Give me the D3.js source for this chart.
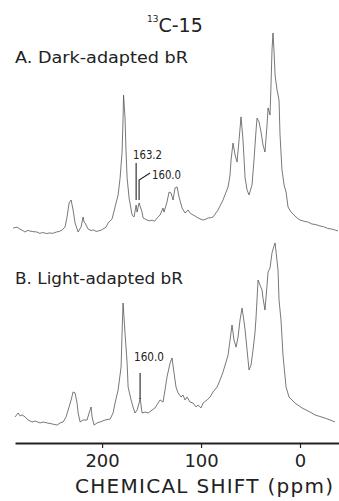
<!DOCTYPE html>
<html><head><meta charset="utf-8">
<script src="https://cdn.jsdelivr.net/npm/d3@7"></script>
<style>body{margin:0;background:#fff}svg{display:block}</style>
</head><body>
<svg id="c" width="339" height="501"></svg>
<script>
// Spectrum A: dark-adapted bR  [ppm, relative intensity]
const specA = [[290,1.5],[286,2.0],[283,1.0],[280,0.2],[278,-0.5],[275,0.3],[273,0],[270,-0.3],[266,-0.5],[263,-1.2],[260,-0.8],[256,-1.3],[253,-1.0],[250,-1.2],[246,-0.5],[243,-0.2],[240.4,0.5],[237.4,2.1],[235.4,7.2],[233.3,14.4],[231.3,15.9],[229.3,10.8],[227.3,4.1],[224.2,-0.5],[221.2,2.1],[219.2,7.2],[218.2,4.6],[217.2,4.1],[214.1,1.0],[211,0.2],[209,0.6],[206,-0.2],[204,0],[201,0.4],[199,1.0],[196,2.0],[193.9,4.1],[189.9,6.2],[186.9,12.3],[183.8,18.5],[181.8,27.2],[179.8,40.5],[178.8,57.9],[178.3,69.7],[176.8,57.9],[175.8,40.5],[174.7,27.2],[172.7,16.9],[169.7,8.2],[167.7,7.2],[165.6,13.3],[164.6,9.7],[162.6,14.4],[159.6,9.7],[158.6,6.7],[154.5,5.6],[152,5.2],[149.5,5.6],[147,5.0],[144.4,6.7],[141.4,8.2],[138.4,11.8],[137.4,9.7],[134.4,14.9],[132.3,20.0],[130.3,19.5],[128.3,15.9],[126.3,22.1],[124.2,22.6],[122.2,17.4],[119.2,11.8],[116.1,9.2],[113.1,10.8],[111.1,9.2],[108.1,8.2],[105,7.4],[103,6.7],[100,6.0],[98,5.6],[95,6.1],[92.9,6.7],[90,6.8],[87.9,7.2],[82.8,10.8],[77.8,15.9],[72.7,22.6],[70.7,28.7],[69.7,36.4],[67.7,45.1],[65.6,39.0],[63.6,35.4],[61.6,46.7],[59.6,58.5],[57.6,46.7],[55.5,27.2],[53.5,21.0],[51.5,18.5],[48.5,23.6],[46.5,36.4],[44.4,51.8],[43.4,57.9],[41.4,55.9],[39.4,50.8],[37.4,44.1],[35.4,40.5],[33.3,54.4],[32.3,63.1],[30.3,59.5],[29.3,74.9],[28.3,92.8],[27.3,101.5],[26.3,92.8],[25.2,80.0],[23.2,72.3],[21.2,67.2],[20.2,49.2],[18.2,31.3],[16.1,23.6],[14.1,20.0],[12.1,12.3],[9.1,9.7],[5.1,7.7],[2,6.3],[0,5.6],[-4,5.0],[-8,4.6],[-12,3.6],[-16,3.3],[-20,2.6],[-24,2.2],[-28,1.3],[-32,1.0],[-36,0.4],[-38.4,0]];

// Spectrum B: light-adapted bR  [ppm, relative intensity]
const specB = [[287.9,2.1],[284.8,4.1],[282.8,2.6],[280.8,3.1],[277.8,2.1],[274.7,0.5],[270.7,-0.5],[267.7,0],[262.6,-1.0],[259.6,-0.5],[255.6,-1.0],[250.5,-1.5],[245.5,-2.1],[242.4,-1.0],[239.4,-0.5],[236.4,2.1],[234.3,5.6],[231.3,10.8],[229.3,14.9],[227.3,14.4],[225.3,9.2],[224.2,4.1],[222.2,-0.5],[219.2,0.5],[215.2,0.5],[213.1,4.1],[211.1,7.2],[210.1,2.1],[208.1,-2.1],[205.1,-1.0],[202,-0.5],[197,0.5],[191.9,1.0],[188.9,4.1],[186.9,9.2],[183.8,15.9],[180.8,27.7],[179.8,45.1],[178.8,60.5],[176.8,45.1],[174.7,29.7],[173.7,17.4],[170.7,10.8],[168.7,7.2],[166.7,4.1],[164.6,5.6],[162.6,9.2],[161.6,11.8],[159.6,4.1],[156.6,4.6],[153.5,4.1],[149.5,5.6],[146.5,6.7],[143.4,9.2],[141.4,10.8],[138.4,9.7],[136.4,15.9],[134.4,22.6],[131.3,29.7],[129.3,32.3],[127.3,24.6],[125.3,17.4],[123.2,14.4],[120.2,12.3],[118.2,13.3],[116.2,10.8],[114.1,12.3],[111.1,9.7],[108.1,9.2],[105.1,7.2],[103,8.2],[100,6.7],[98,9.2],[93.9,10.8],[90.9,12.3],[87.9,14.9],[83.8,17.4],[80.8,21.0],[77.8,25.1],[72.7,33.8],[70.7,41.5],[68.7,49.2],[66.7,41.5],[64.6,37.9],[62.6,43.1],[60.6,51.8],[58.6,57.9],[56.5,50.8],[55.5,46.7],[53.5,36.4],[51.5,26.2],[49.5,28.7],[47.5,36.4],[45.5,45.1],[44.4,53.3],[42.4,72.3],[40.4,69.7],[38.4,67.2],[37.4,63.1],[35.4,56.9],[33.3,69.7],[32.3,76.4],[30.3,78.5],[28.3,86.2],[26.3,89.7],[25.2,91.3],[24.2,86.7],[22.2,77.4],[21.2,62.1],[19.2,51.8],[17.2,33.8],[14.1,17.4],[11.1,12.3],[5.1,9.2],[-2,6.7],[-10.1,4.6],[-15.2,3.1],[-25.3,1.5],[-35.4,-0.5]];

const tickValues = [200, 100, 0];
const tickLabels = ["200", "100", "0"];
const xDomain = [288, -39.4];

const svg = d3.select("#c");
const font = "'DejaVu Sans', sans-serif";
const ink = "#222";

const x = d3.scaleLinear().domain(xDomain).range([15, 339]);
const yA = d3.scaleLinear().domain([0, 100]).range([231, 36]);
const yB = d3.scaleLinear().domain([0, 100]).range([421, 226]);

const lineA = d3.line().x(d => x(d[0])).y(d => yA(d[1]));
const lineB = d3.line().x(d => x(d[0])).y(d => yB(d[1]));

svg.append("path").attr("d", lineA(specA)).attr("fill", "none")
  .attr("stroke", "#555").attr("stroke-width", 0.8).attr("stroke-linejoin", "round");
svg.append("path").attr("d", lineB(specB)).attr("fill", "none")
  .attr("stroke", "#555").attr("stroke-width", 0.8).attr("stroke-linejoin", "round");

// Axis
const axis = d3.axisBottom(x).tickValues(tickValues).tickSize(5).tickSizeOuter(0)
  .tickFormat((d, i) => tickLabels[i]).tickPadding(5);
const g = svg.append("g").attr("transform", "translate(0,443)").call(axis);
g.select(".domain").attr("stroke", ink).attr("stroke-width", 2);
g.selectAll(".tick line").attr("stroke", ink).attr("stroke-width", 1.2);
g.selectAll(".tick text").attr("font-family", font).attr("font-size", 18)
  .attr("fill", ink).attr("dy", "0.75em");

// Title
const t = svg.append("text").attr("x", 147).attr("y", 32).attr("font-family", font).attr("fill", ink);
t.append("tspan").attr("font-size", 9).attr("dy", -10).text("13");
t.append("tspan").attr("font-size", 19).attr("dy", 10).text("C-15");

svg.append("text").attr("x", 15).attr("y", 63).attr("font-family", font).attr("font-size", 16)
  .attr("fill", ink).attr("textLength", 173).attr("lengthAdjust", "spacingAndGlyphs").text("A. Dark-adapted bR");
svg.append("text").attr("x", 15).attr("y", 284).attr("font-family", font).attr("font-size", 16)
  .attr("fill", ink).attr("textLength", 168).attr("lengthAdjust", "spacingAndGlyphs").text("B. Light-adapted bR");

svg.append("text").attr("x", 75).attr("y", 493).attr("font-family", font).attr("font-size", 20)
  .attr("fill", ink).attr("textLength", 258).attr("lengthAdjust", "spacing").text("CHEMICAL SHIFT (ppm)");

// Peak annotations
const ann = svg.append("g").attr("stroke", ink).attr("stroke-width", 1.1).attr("fill", "none");
const xa1 = x(165.6), xa2 = x(162.6), xb = x(161.6);
ann.append("line").attr("x1", xa1).attr("x2", xa1).attr("y1", 163).attr("y2", 200);
ann.append("path").attr("d", `M${xa2},200 L${xa2},180 L${xa2 + 11},173`);
ann.append("line").attr("x1", xb).attr("x2", xb).attr("y1", 373).attr("y2", 399);

svg.append("text").attr("x", 133).attr("y", 159).attr("font-family", font).attr("font-size", 12)
  .attr("fill", ink).attr("textLength", 29).attr("lengthAdjust", "spacingAndGlyphs").text("163.2");
svg.append("text").attr("x", 152).attr("y", 179).attr("font-family", font).attr("font-size", 12)
  .attr("fill", ink).attr("textLength", 29).attr("lengthAdjust", "spacingAndGlyphs").text("160.0");
svg.append("text").attr("x", 134).attr("y", 361).attr("font-family", font).attr("font-size", 12)
  .attr("fill", ink).attr("textLength", 30).attr("lengthAdjust", "spacingAndGlyphs").text("160.0");
</script>
</body></html>
